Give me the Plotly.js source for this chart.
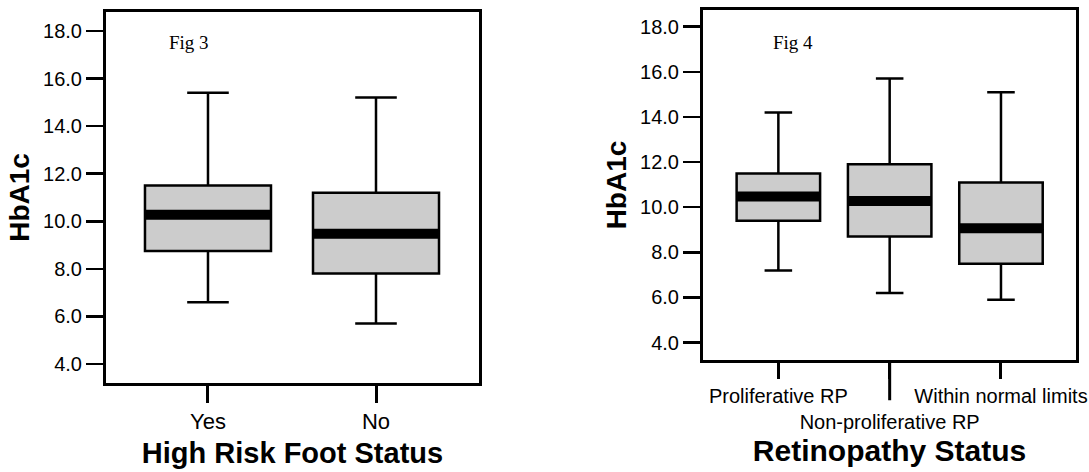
<!DOCTYPE html>
<html>
<head>
<meta charset="utf-8">
<script src="https://cdn.plot.ly/plotly-3.0.1.min.js"></script>
<style>
  html, body { margin: 0; padding: 0; background: #ffffff; overflow: hidden; }
  #chart { width: 1089px; height: 472px; }
</style>
</head>
<body>
<div id="chart"></div>
<script>
// ---- Fig 3: High Risk Foot Status ----
const footCategories = ["Yes", "No"];
const footLower  = [6.6, 5.7];
const footQ1     = [8.75, 7.8];
const footMedian = [10.27, 9.48];
const footQ3     = [11.5, 11.2];
const footUpper  = [15.4, 15.2];

// ---- Fig 4: Retinopathy Status ----
const retCategories = ["Proliferative RP", "Non-proliferative RP", "Within normal limits"];
const retTickText   = ["Proliferative RP", "<br>Non-proliferative RP", "Within normal limits"];
const retLower  = [7.2, 6.2, 5.9];
const retQ1     = [9.4, 8.7, 7.5];
const retMedian = [10.48, 10.28, 9.07];
const retQ3     = [11.5, 11.9, 11.1];
const retUpper  = [14.2, 15.7, 15.1];

const yTickVals = [4, 6, 8, 10, 12, 14, 16, 18];

const FONT = "Liberation Sans, Arial, Helvetica, sans-serif";
const BOX_WIDTH = 0.75;

function boxTrace(cats, lo, q1, med, q3, up, xa, ya) {
  return {
    type: "box",
    x: cats,
    lowerfence: lo, q1: q1, median: med, q3: q3, upperfence: up,
    xaxis: xa, yaxis: ya,
    width: BOX_WIDTH,
    whiskerwidth: 0.33,
    boxpoints: false,
    fillcolor: "#cccccc",
    line: { color: "#000000", width: 2.5 },
    hoverinfo: "skip",
    showlegend: false
  };
}

const data = [
  boxTrace(footCategories, footLower, footQ1, footMedian, footQ3, footUpper, "x", "y"),
  boxTrace(retCategories, retLower, retQ1, retMedian, retQ3, retUpper, "x2", "y2")
];

// thick median bands, built from the median arrays
const shapes = [];
footMedian.forEach((m, i) => shapes.push({
  type: "line", xref: "x", yref: "y",
  x0: i - BOX_WIDTH / 2, x1: i + BOX_WIDTH / 2, y0: m, y1: m,
  line: { color: "#000000", width: 10 }
}));
retMedian.forEach((m, i) => shapes.push({
  type: "line", xref: "x2", yref: "y2",
  x0: i - BOX_WIDTH / 2, x1: i + BOX_WIDTH / 2, y0: m, y1: m,
  line: { color: "#000000", width: 10 }
}));
// long tick for the staggered middle label
shapes.push({
  type: "line", xref: "x2", yref: "y2 domain",
  x0: 1, x1: 1, y0: 0, y1: -0.115,
  line: { color: "#000000", width: 3 }
});

const yAxisBase = {
  range: [3.2, 18.8],
  tickvals: yTickVals,
  tickformat: ".1f",
  ticks: "outside", ticklen: 17, tickwidth: 2.5, tickcolor: "#000000",
  showline: true, mirror: true, linewidth: 3, linecolor: "#000000",
  showgrid: false, zeroline: false,
  tickfont: { family: FONT, size: 20, color: "#000000" },
  title: { text: "<b>HbA1c</b>", font: { family: FONT, size: 28, color: "#000000" }, standoff: 6 },
  fixedrange: true
};

const layout = {
  width: 1089, height: 472,
  margin: { l: 0, r: 0, t: 0, b: 0 },
  paper_bgcolor: "#ffffff", plot_bgcolor: "#ffffff",
  showlegend: false,
  xaxis: {
    domain: [106 / 1089, 479 / 1089],
    anchor: "y",
    type: "category",
    categoryarray: footCategories,
    range: [-0.607, 1.613],
    ticks: "outside", ticklen: 17, tickwidth: 3, tickcolor: "#000000",
    showline: true, mirror: true, linewidth: 3, linecolor: "#000000",
    showgrid: false, zeroline: false,
    tickangle: 0,
    tickfont: { family: FONT, size: 22, color: "#000000" },
    title: { text: "<b>High Risk Foot Status</b>", font: { family: FONT, size: 29, color: "#000000" }, standoff: 10 },
    fixedrange: true
  },
  yaxis: Object.assign({}, yAxisBase, { domain: [1 - 383 / 472, 1 - 12 / 472], anchor: "x" }),
  xaxis2: {
    domain: [703 / 1089, 1076 / 1089],
    anchor: "y2",
    type: "category",
    categoryarray: retCategories,
    tickvals: retCategories,
    ticktext: retTickText,
    range: [-0.677, 2.674],
    ticks: "outside", ticklen: 16, tickwidth: 3, tickcolor: "#000000",
    showline: true, mirror: true, linewidth: 3, linecolor: "#000000",
    showgrid: false, zeroline: false,
    tickangle: 0,
    tickfont: { family: FONT, size: 20, color: "#000000" },
    title: { text: "<b>Retinopathy Status</b>", font: { family: FONT, size: 30, color: "#000000" }, standoff: 8 },
    fixedrange: true
  },
  yaxis2: Object.assign({}, yAxisBase, { domain: [1 - 360 / 472, 1 - 10 / 472], anchor: "x2", range: [3.23, 18.74] }),
  shapes: shapes,
  annotations: [
    { xref: "paper", yref: "paper", x: 167 / 1089, y: 1 - 43 / 472, xanchor: "left", yanchor: "middle",
      text: "Fig 3", showarrow: false, font: { family: "Liberation Serif, Times New Roman, serif", size: 19, color: "#000000" } },
    { xref: "paper", yref: "paper", x: 771 / 1089, y: 1 - 43 / 472, xanchor: "left", yanchor: "middle",
      text: "Fig 4", showarrow: false, font: { family: "Liberation Serif, Times New Roman, serif", size: 19, color: "#000000" } }
  ]
};

Plotly.newPlot("chart", data, layout, { staticPlot: true, displayModeBar: false });
</script>
</body>
</html>
